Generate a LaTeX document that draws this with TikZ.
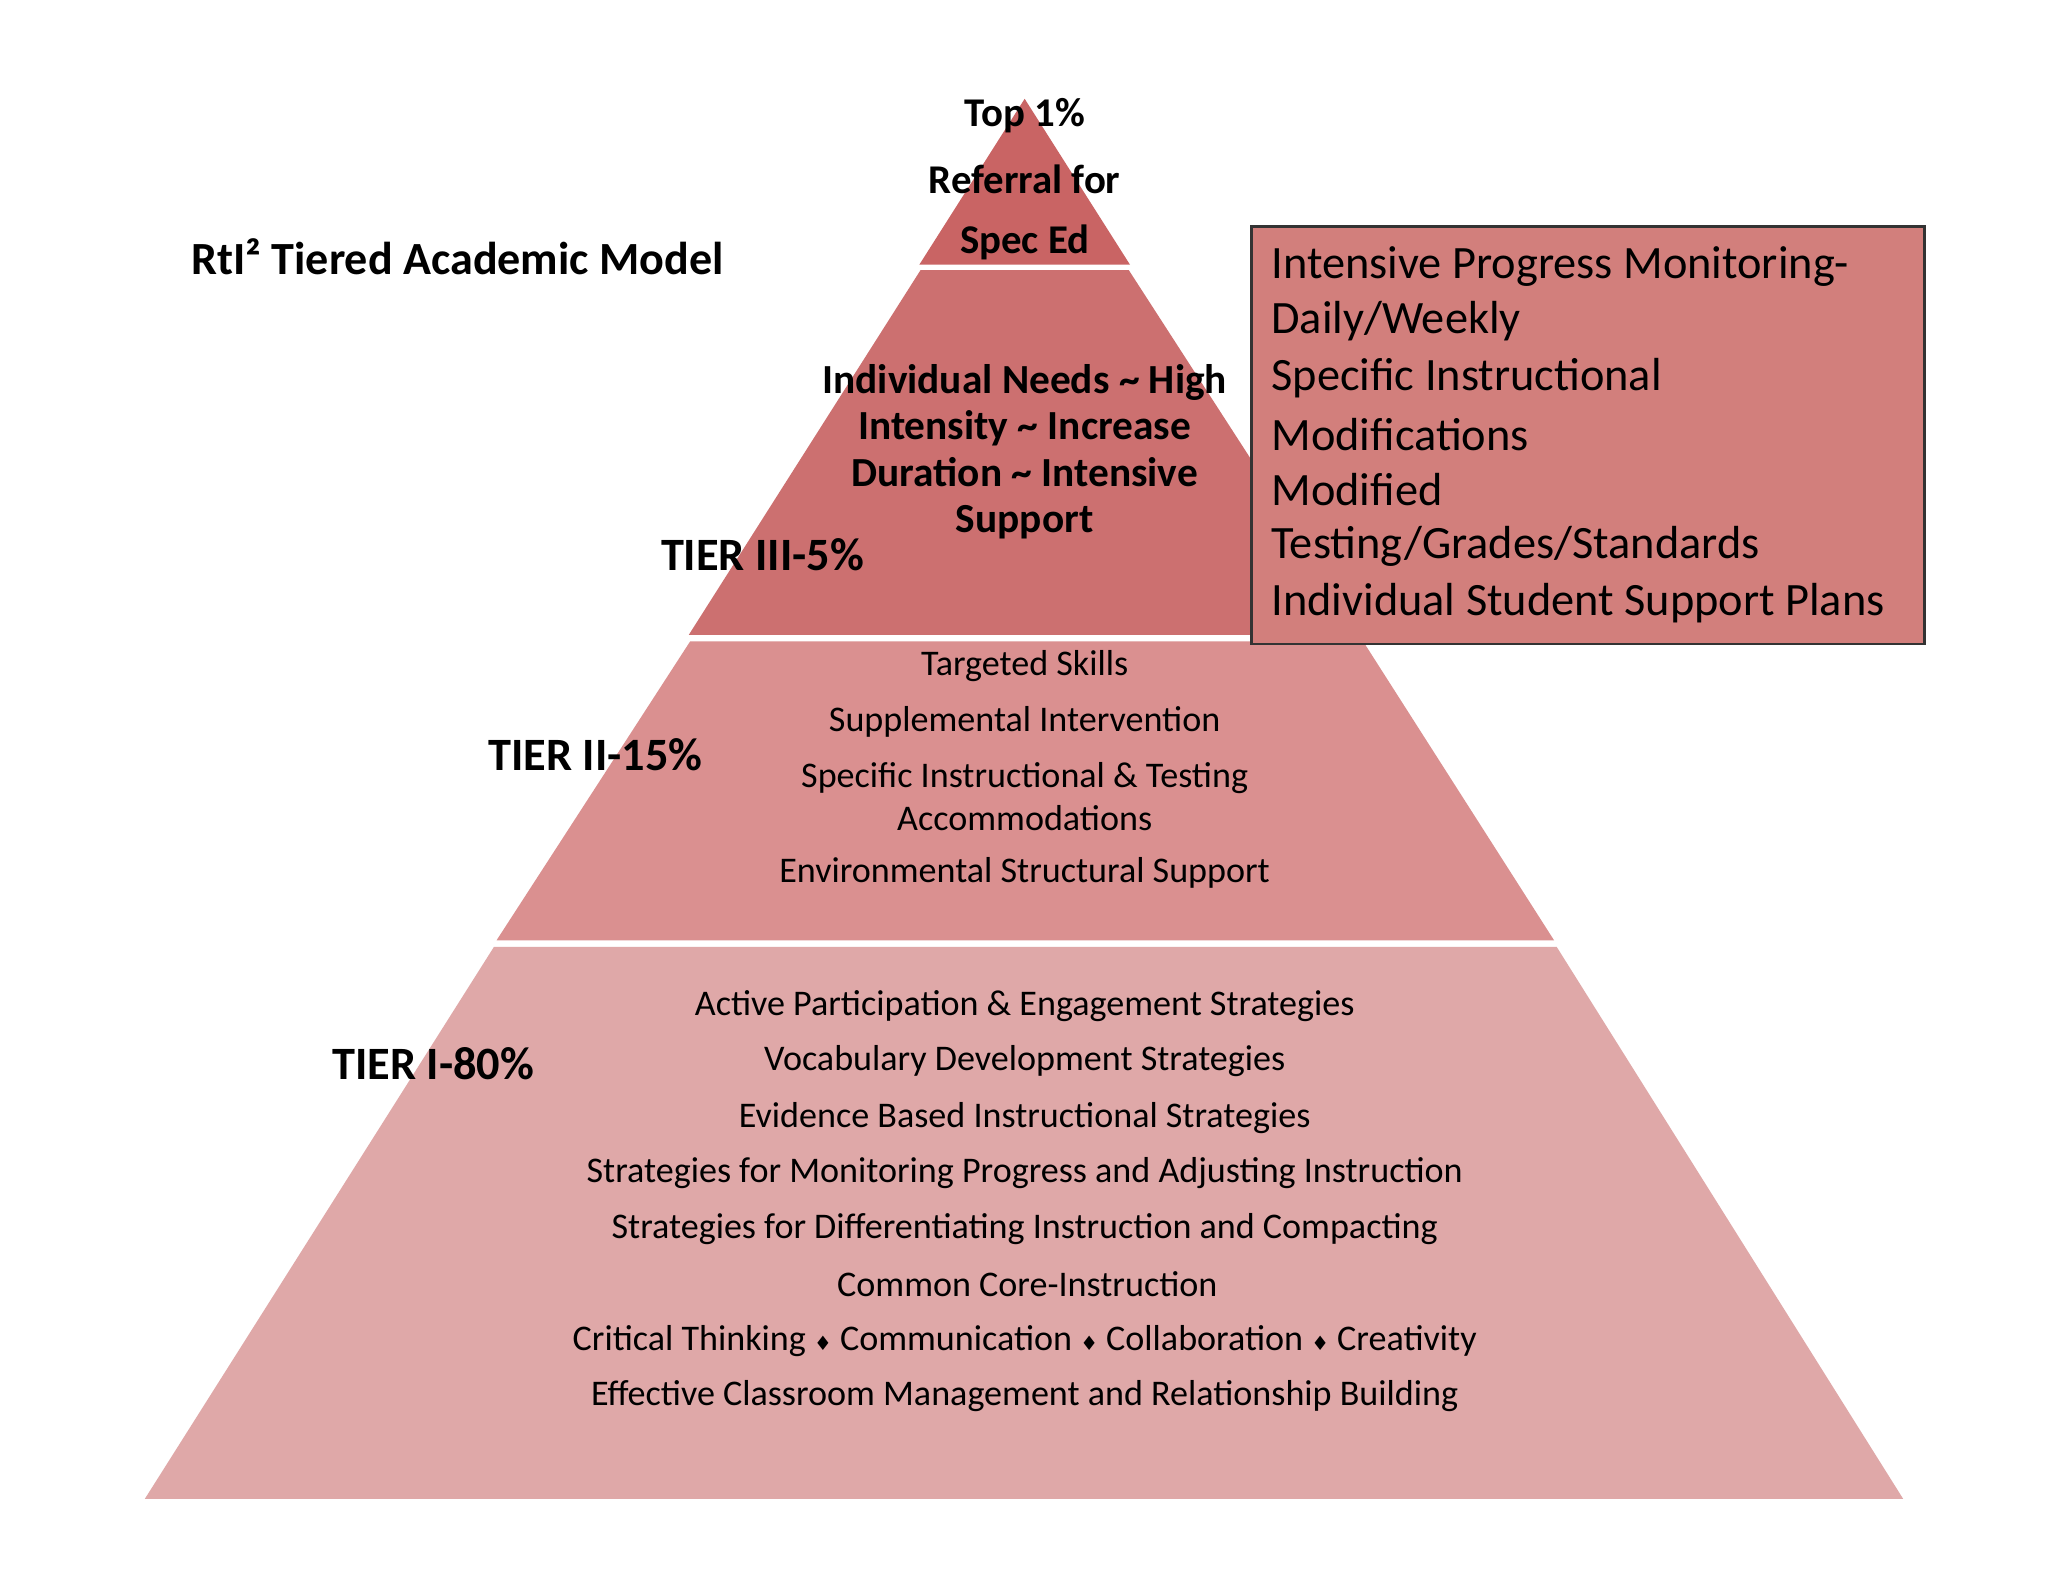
\documentclass[tikz,border=0pt]{standalone}
\usepackage{fontspec}
\setmainfont{Carlito}
\newfontfamily\djv{DejaVu Sans}
\begin{document}
\begin{tikzpicture}[x=0.5pt,y=-0.5pt,
  t1/.style={font=\fontsize{13.7}{16}\selectfont,anchor=center,inner sep=0},
  tl/.style={font=\bfseries\fontsize{17.6}{20}\selectfont,anchor=center,inner sep=0},
  tp/.style={font=\bfseries\fontsize{15.5}{18}\selectfont,anchor=center,inner sep=0},
  bx/.style={font=\fontsize{17.6}{21}\selectfont,anchor=west,inner sep=0}]
\useasboundingbox (0,0) rectangle (1555,1201);
\fill[white] (0,0) rectangle (1555,1201);
\definecolor{c0}{HTML}{C96464}
\definecolor{c3}{HTML}{CC7070}
\definecolor{c2}{HTML}{DA9090}
\definecolor{c1}{HTML}{DFA8A8}
\definecolor{cb}{HTML}{D27F7C}
\fill[c0] (778,75) -- (858,201) -- (698,201) -- cycle;
\fill[c3] (699,205) -- (857,205) -- (1036,482) -- (523,482) -- cycle;
\fill[c2] (524,487) -- (1035,487) -- (1180,714) -- (377,714) -- cycle;
\fill[c1] (375,719) -- (1182,719) -- (1445,1138) -- (110,1138) -- cycle;
\draw[fill=cb,draw=black!80,line width=1pt] (950,172) rectangle (1461,489);
\node[bx] (b1) at (965,202) {Intensive Progress Monitoring-};
\node[bx] (b2) at (965,244) {Daily/Weekly};
\node[bx] (b3) at (965,287) {Specific Instructional};
\node[bx] (b4) at (965,330) {Modifications};
\node[bx] (b5) at (965,372) {Modified};
\node[bx] (b6) at (965,415) {Testing/Grades/Standards};
\node[bx] (b7) at (965,458) {Individual Student Support Plans};
\node[font=\bfseries\fontsize{17.5}{20}\selectfont,anchor=west,inner sep=0] (title) at (145,195) {RtI² Tiered Academic Model};
\node[tp] (p1) at (778,88) {Top 1\%};
\node[tp] (p2) at (778,136) {Referral for};
\node[tp] (p3) at (778,184) {Spec Ed};
\node[font=\bfseries\fontsize{15.7}{17.5}\selectfont,align=center,inner sep=0] (t3) at (778,343) {Individual Needs \textasciitilde{} High\\Intensity \textasciitilde{} Increase\\Duration \textasciitilde{} Intensive\\Support};
\node[tl] (l3) at (579,421) {TIER III-5\%};
\node[tl] (l2) at (452,573) {TIER II-15\%};
\node[tl] (l1) at (329,808) {TIER I-80\%};
\node[t1] (s1) at (778,506) {Targeted Skills};
\node[t1] (s2) at (778,548) {Supplemental Intervention};
\node[t1] (s3) at (778,591) {Specific Instructional \& Testing};
\node[t1] (s4) at (778,621) {Accommodations};
\node[t1] (s5) at (778,663) {Environmental Structural Support};
\node[t1] (a1) at (778,764) {Active Participation \& Engagement Strategies};
\node[t1] (a2) at (778,806) {Vocabulary Development Strategies};
\node[t1] (a3) at (778,849) {Evidence Based Instructional Strategies};
\node[t1] (a4) at (778,891) {Strategies for Monitoring Progress and Adjusting Instruction};
\node[t1] (a5) at (778,933) {Strategies for Differentiating Instruction and Compacting};
\node[t1] (a6) at (780,975) {Common Core-Instruction};
\node[t1] (a7) at (778,1018) {Critical Thinking {\djv\fontsize{7.5}{8}\selectfont ♦} Communication {\djv\fontsize{7.5}{8}\selectfont ♦} Collaboration {\djv\fontsize{7.5}{8}\selectfont ♦} Creativity};
\node[t1] (a8) at (778,1060) {Effective Classroom Management and Relationship Building};
\end{tikzpicture}
\end{document}
